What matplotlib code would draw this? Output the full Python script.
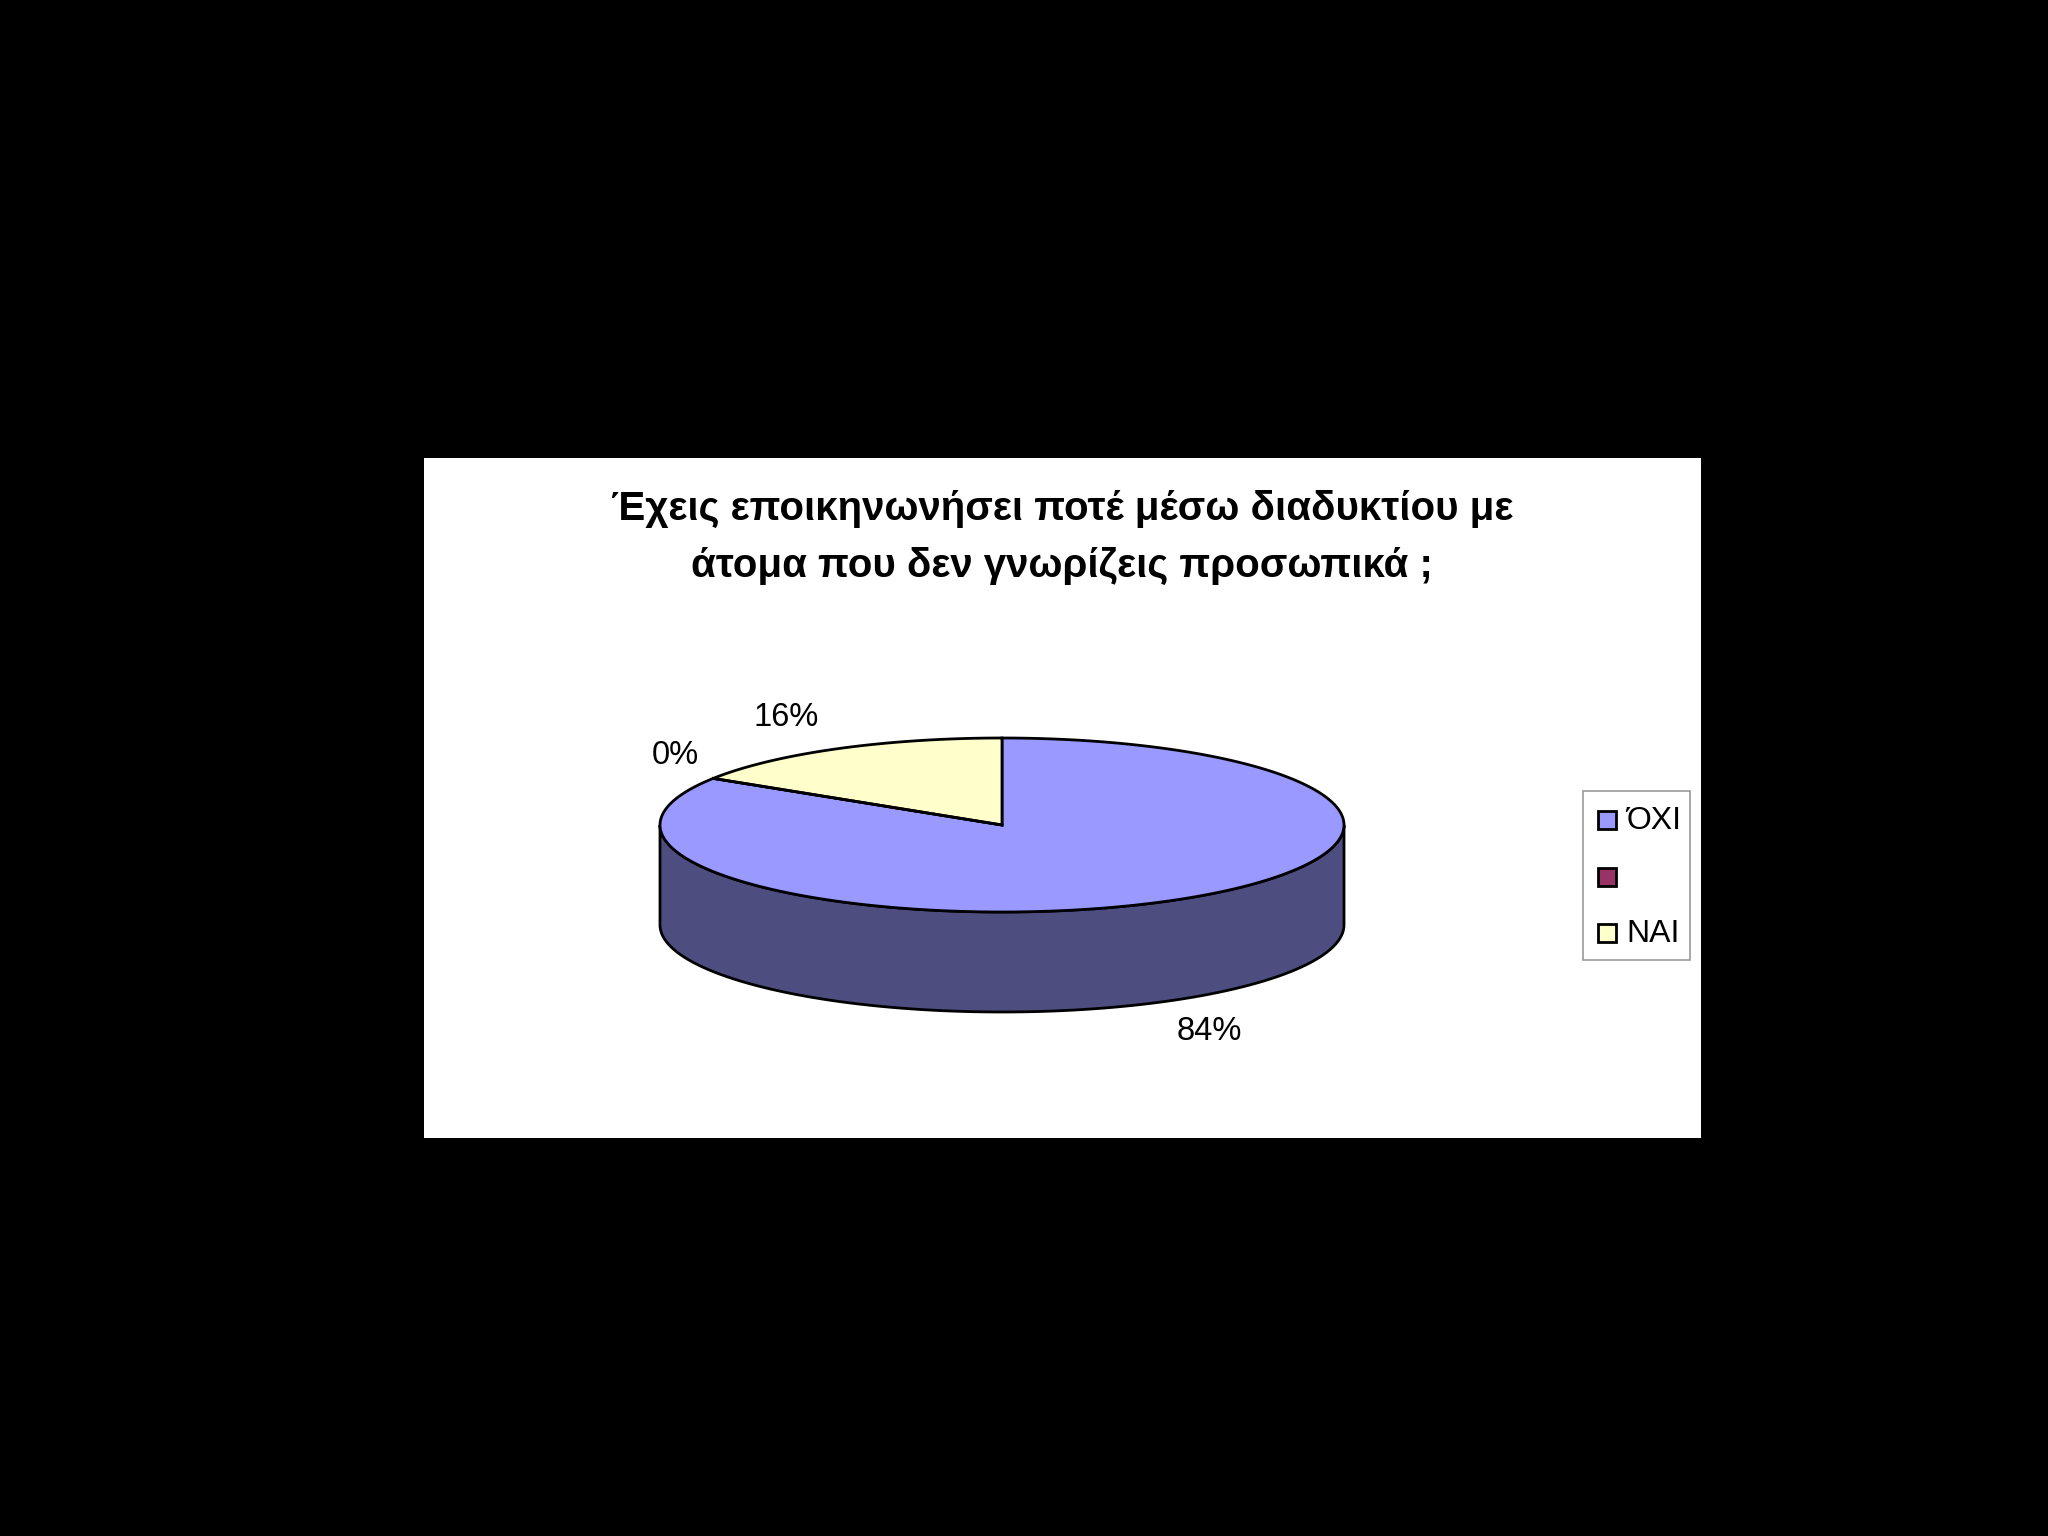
import numpy as np
import matplotlib
matplotlib.use("Agg")
import matplotlib.pyplot as plt
from matplotlib.patches import Polygon, Rectangle

# data
labels = ['ΌΧΙ', '', 'ΝΑΙ']
values = [84, 0, 16]
top_colors = ['#9999FF', '#993366', '#FFFFCC']
side_colors = ['#4D4D80', '#4D1A33', '#808066']
title = 'Έχεις εποικηνωνήσει ποτέ μέσω διαδυκτίου με\nάτομα που δεν γνωρίζεις προσωπικά ;'

plt.rcParams['font.family'] = ['Liberation Sans', 'DejaVu Sans']

fig = plt.figure(figsize=(20.48, 15.36), dpi=100, facecolor='black')
ax = fig.add_axes([0, 0, 1, 1])
ax.set_xlim(0, 2048)
ax.set_ylim(1536, 0)
ax.axis('off')
ax.set_facecolor('black')

# white chart panel
ax.add_patch(Rectangle((424, 458), 1277, 680, facecolor='white', edgecolor='none', zorder=0))

ax.text(1062, 509, title.split('\n')[0], ha='center', va='center', fontsize=29, fontweight='bold')
ax.text(1062, 566, title.split('\n')[1], ha='center', va='center', fontsize=29, fontweight='bold')

# 3d pie geometry
cx, cy, a, b, depth = 1002, 825, 342, 87, 100

def pt(t):
    t = np.radians(t)
    return cx + a * np.cos(t), cy - b * np.sin(t)

total = sum(values)
start = 90.0
spans = []
for v in values:
    end = start - 360.0 * v / total
    spans.append((end, start))
    start = end

# side walls (front half only: angles 180..360)
for (t0, t1), col in zip(spans, side_colors):
    if t1 - t0 <= 0:
        continue
    for k in range(-1, 2):
        lo = max(t0, 180 + 360 * k)
        hi = min(t1, 360 + 360 * k)
        if hi <= lo:
            continue
        ts = np.linspace(lo, hi, 100)
        xs, ys = pt(ts)
        poly = np.vstack([np.column_stack([xs, ys]),
                          np.column_stack([xs[::-1], ys[::-1] + depth])])
        ax.add_patch(Polygon(poly, closed=True, facecolor=col, edgecolor='black',
                             linewidth=2, zorder=2))

# top faces
for (t0, t1), col in zip(spans, top_colors):
    if t1 - t0 <= 0:
        continue
    ts = np.linspace(t0, t1, 300)
    xs, ys = pt(ts)
    poly = np.vstack([[cx, cy], np.column_stack([xs, ys])])
    ax.add_patch(Polygon(poly, closed=True, facecolor=col, edgecolor='black',
                         linewidth=2, zorder=3))
# zero slice boundary line
x0, y0 = pt(spans[1][1])
ax.plot([cx, x0], [cy, y0], color='black', lw=2, zorder=4)

# percentage labels
label_pos = [(1209, 1031), (675, 756), (786, 717)]
for v, (lx, ly) in zip(values, label_pos):
    ax.text(lx, ly, f'{v}%', ha='center', va='center', fontsize=23.5, color='black')

# legend
ax.add_patch(Rectangle((1583, 791), 107, 169, facecolor='white', edgecolor='#999999',
                       linewidth=1.2, zorder=2))
leg_y = [820, 877, 933]
for lab, col, ly in zip(labels, top_colors, leg_y):
    ax.add_patch(Rectangle((1598, ly - 9), 18, 18, facecolor=col, edgecolor='black',
                           linewidth=2, zorder=3))
    ax.text(1626, ly + 1, lab, ha='left', va='center', fontsize=23, zorder=3)

fig.savefig('out.png', dpi=100, facecolor='black')
